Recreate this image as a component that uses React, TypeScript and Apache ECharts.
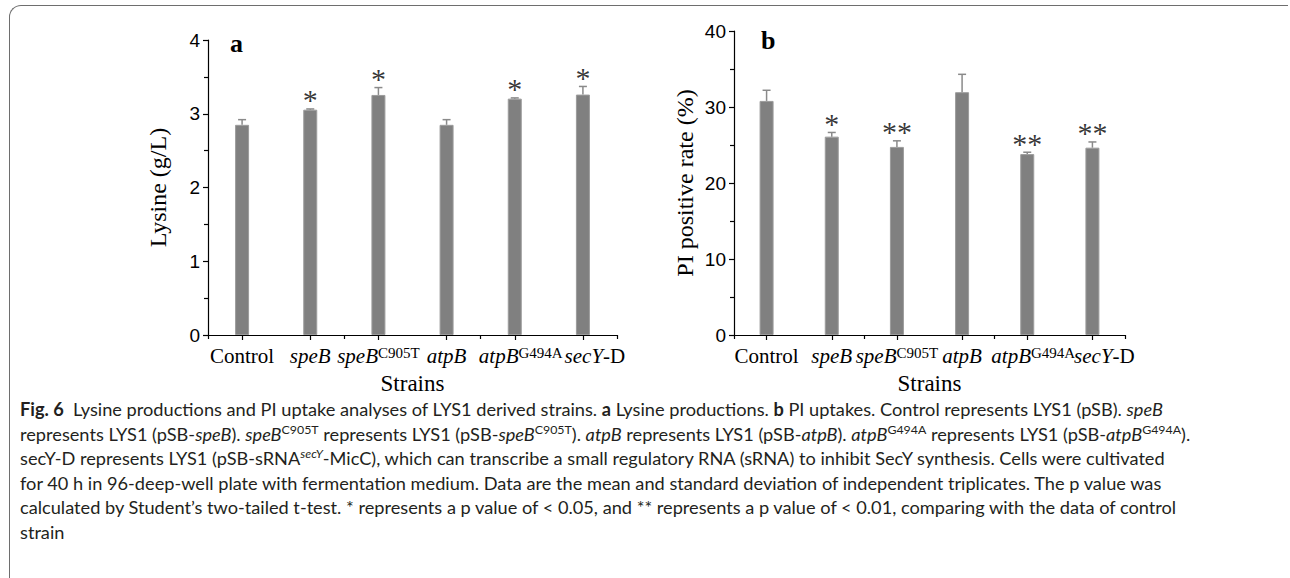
import React, { useEffect, useRef } from "react";
import * as echarts from "echarts";

// ---- data ----
const strains = ["Control", "speB", "speBC905T", "atpB", "atpBG494A", "secY-D"];
const strainLabels = [
  "{r|Control}",
  "{i|speB}",
  "{i|speB}{s|C905T}",
  "{i|atpB}",
  "{i|atpB}{s|G494A}",
  "{i|secY}{r|-D}",
];
const lysineMean = [2.85, 3.055, 3.255, 2.85, 3.205, 3.26];
const lysineSd = [0.07, 0.01, 0.1, 0.07, 0.01, 0.11];
const lysineSig = ["", "*", "*", "", "*", "*"];
const piMean = [30.8, 26.1, 24.75, 31.95, 23.8, 24.65];
const piSd = [1.4, 0.55, 0.8, 2.35, 0.25, 0.75];
const piSig = ["", "*", "**", "", "**", "**"];
const lysineAxis = { min: 0, max: 4, interval: 1 };
const piAxis = { min: 0, max: 40, interval: 10 };

// ---- styles ----
const SERIF = "'Liberation Serif', 'Times New Roman', serif";
const SANS = "'Liberation Sans', Arial, sans-serif";
const BAR = "#808080";
const ERR = "#8a8a8a";
// horizontal nudge (px) of some category labels, as in the original figure
const labelShift = [0, 0, 0, 0, 6, 12];

function xAxes(grid: number) {
  const richBase = { fontFamily: SERIF, fontSize: 21, color: "#000", lineHeight: 21 };
  const rich: any = {
    r: { ...richBase },
    i: { ...richBase, fontStyle: "italic" },
    s: { fontFamily: SERIF, fontSize: 15, color: "#000", lineHeight: 15, verticalAlign: "top" },
  };
  labelShift.forEach((s, i) => {
    if (s) rich["pad" + i] = { width: s * 2, lineHeight: 21 };
  });
  return [
    {
      type: "category",
      gridIndex: grid,
      data: strains,
      boundaryGap: true,
      axisLine: { show: true, lineStyle: { color: "#000", width: 1.2 } },
      axisTick: { show: true, alignWithLabel: true, length: 5, lineStyle: { color: "#000", width: 1.2 } },
      axisLabel: {
        margin: 10,
        interval: 0,
        formatter: (_v: string, i: number) => (labelShift[i] ? `{pad${i}|}` : "") + strainLabels[i],
        rich,
      },
      name: "Strains",
      nameLocation: "middle",
      nameGap: 37,
      nameTextStyle: { fontFamily: SERIF, fontSize: 23, color: "#000" },
    },
    {
      type: "category",
      gridIndex: grid,
      position: "bottom",
      data: strains,
      boundaryGap: true,
      axisLine: { show: false },
      axisTick: { show: true, alignWithLabel: false, length: 4, lineStyle: { color: "#000", width: 1.2 } },
      axisLabel: { show: false },
    },
  ];
}

function yAxis(grid: number, ax: any, name: string, gap: number) {
  return {
    type: "value",
    gridIndex: grid,
    min: ax.min,
    max: ax.max,
    interval: ax.interval,
    axisLine: { show: true, lineStyle: { color: "#000", width: 1.2 } },
    axisTick: { show: true, length: 5, lineStyle: { color: "#000", width: 1.2 } },
    minorTick: { show: true, splitNumber: 2, length: 4, lineStyle: { color: "#000", width: 1.2 } },
    splitLine: { show: false },
    axisLabel: { fontFamily: SANS, fontSize: 19, color: "#000", margin: 8 },
    name,
    nameLocation: "middle",
    nameGap: gap,
    nameTextStyle: { fontFamily: SERIF, fontSize: 24, color: "#000" },
  };
}

function seriesFor(idx: number, mean: number[], sd: number[], sig: string[]) {
  const xi = idx * 2;
  return [
    {
      type: "bar",
      xAxisIndex: xi,
      yAxisIndex: idx,
      data: mean,
      barWidth: 14,
      itemStyle: { color: BAR, borderColor: "#9c9c9c", borderWidth: 1 },
      z: 2,
    },
    {
      type: "custom",
      xAxisIndex: xi,
      yAxisIndex: idx,
      data: mean.map((m, i) => [i, m, m + sd[i]]),
      z: 3,
      renderItem: (_p: any, api: any) => {
        const x = api.value(0);
        const lo = api.coord([x, api.value(1)]);
        const hi = api.coord([x, api.value(2)]);
        const half = 4;
        return {
          type: "group",
          children: [
            { type: "line", shape: { x1: lo[0], y1: lo[1], x2: hi[0], y2: hi[1] }, style: { stroke: ERR, lineWidth: 1.5 } },
            { type: "line", shape: { x1: hi[0] - half, y1: hi[1], x2: hi[0] + half, y2: hi[1] }, style: { stroke: ERR, lineWidth: 1.5 } },
          ],
        };
      },
    },
    {
      type: "scatter",
      xAxisIndex: xi,
      yAxisIndex: idx,
      symbolSize: 0,
      data: mean.map((m, i) => [i, m + sd[i]]),
      label: {
        show: true,
        position: "top",
        distance: 0,
        offset: [0, 6],
        formatter: (p: any) => sig[p.dataIndex],
        fontFamily: SERIF,
        fontSize: 30,
        lineHeight: 30,
        color: "#000",
      },
      z: 4,
    },
  ];
}

export default function App() {
  const ref = useRef<HTMLDivElement>(null);
  useEffect(() => {
    if (!ref.current) return;
    const chart = echarts.init(ref.current, undefined, { renderer: "svg" });
    chart.setOption({
      animation: false,
      backgroundColor: "transparent",
      grid: [
        { left: 208, top: 40, width: 409, height: 307 },
        { left: 734, top: 31, width: 391, height: 315 },
      ],
      xAxis: [...xAxes(0), ...xAxes(1)],
      yAxis: [
        yAxis(0, lysineAxis, "Lysine (g/L)", 38),
        yAxis(1, piAxis, "PI positive rate (%)", 37),
      ],
      series: [
        ...seriesFor(0, lysineMean, lysineSd, lysineSig),
        ...seriesFor(1, piMean, piSd, piSig),
      ],
      graphic: [
        { type: "text", left: 230, top: 30, style: { text: "a", font: `bold 26px ${SERIF}`, fill: "#000" } },
        { type: "text", left: 761, top: 27, style: { text: "b", font: `bold 26px ${SERIF}`, fill: "#000" } },
      ],
    });
    return () => chart.dispose();
  }, []);

  const capStyle: React.CSSProperties = {
    position: "absolute",
    left: 20,
    top: 397,
    width: 1265,
    fontFamily: "Lato, 'Noto Sans', sans-serif",
    fontSize: 18.2,
    lineHeight: "24.5px",
    color: "#231f20",
    whiteSpace: "nowrap",
  };
  const sup: React.CSSProperties = { fontSize: "0.68em", lineHeight: 0, verticalAlign: "0.55em" };

  return (
    <div style={{ position: "fixed", left: 0, top: 0, width: 1290, height: 578, background: "#fff", overflow: "hidden" }}>
      <div
        style={{
          position: "absolute",
          left: 9,
          top: 5,
          width: 1278,
          height: 620,
          borderTop: "1.5px solid #6e6e6e",
          borderLeft: "1.5px solid #6e6e6e",
          borderTopLeftRadius: 12,
        }}
      />
      <div ref={ref} style={{ position: "absolute", left: 0, top: 0, width: 1290, height: 400 }} />
      <div style={capStyle}>
        <b>Fig. 6</b>&nbsp; Lysine productions and PI uptake analyses of LYS1 derived strains. <b>a</b> Lysine productions. <b>b</b> PI uptakes. Control represents LYS1 (pSB). <i>speB</i>
        <br />
        represents LYS1 (pSB-<i>speB</i>). <i>speB</i><span style={sup}>C905T</span> represents LYS1 (pSB-<i>speB</i><span style={sup}>C905T</span>). <i>atpB</i> represents LYS1 (pSB-<i>atpB</i>). <i>atpB</i><span style={sup}>G494A</span> represents LYS1 (pSB-<i>atpB</i><span style={sup}>G494A</span>).
        <br />
        secY-D represents LYS1 (pSB-sRNA<span style={sup}><i>secY</i></span>-MicC), which can transcribe a small regulatory RNA (sRNA) to inhibit SecY synthesis. Cells were cultivated
        <br />
        for 40 h in 96-deep-well plate with fermentation medium. Data are the mean and standard deviation of independent triplicates. The p value was
        <br />
        calculated by Student’s two-tailed t-test. * represents a p value of &lt; 0.05, and ** represents a p value of &lt; 0.01, comparing with the data of control
        <br />
        strain
      </div>
    </div>
  );
}
